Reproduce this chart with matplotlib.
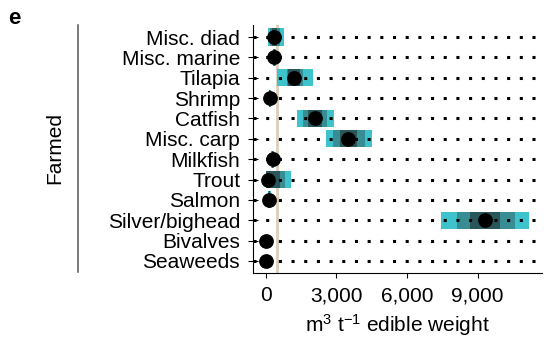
import numpy as np
import matplotlib.pyplot as plt
from matplotlib.lines import Line2D

plt.rcParams['font.family'] = ['Liberation Sans', 'DejaVu Sans']
plt.rcParams['mathtext.fontset'] = 'custom'
plt.rcParams['mathtext.rm'] = 'Liberation Sans'
plt.rcParams['mathtext.it'] = 'Liberation Sans'

# === Données ===
categories = ["Misc. diad", "Misc. marine", "Tilapia", "Shrimp", "Catfish", "Misc. carp",
              "Milkfish", "Trout", "Salmon", "Silver/bighead", "Bivalves", "Seaweeds"]
point    = [370, 360, 1210, 180, 2100, 3500, 300, 110, 150, 9320, 0, 0]
outer_lo = [110, 300, 470, 120, 1320, 2550, 240, 0, 90, 7440, 0, 0]
outer_hi = [790, 430, 2020, 240, 2900, 4530, 360, 1080, 210, 11200, 0, 0]
mid_lo   = [200, 320, 890, 140, 1600, 2870, 260, 0, 110, 8120, 0, 0]
mid_hi   = [600, 410, 1600, 220, 2590, 4220, 340, 800, 190, 10590, 0, 0]
in_lo    = [270, 340, 960, 160, 1810, 3160, 280, 0, 130, 8680, 0, 0]
in_hi    = [480, 390, 1460, 200, 2380, 3870, 320, 600, 170, 9960, 0, 0]
ref_value = 470
xticks = [0, 3000, 6000, 9000]
xticklabels = ["0", "3,000", "6,000", "9,000"]

c_out, c_mid, c_in = '#3ec2cb', '#378d93', '#2a5559'

fig = plt.figure(figsize=(5.58, 3.41), dpi=100)
ax = fig.add_axes([0.4534, 0.1994, 0.9713 - 0.4534, 0.9267 - 0.1994])
xlim = (-540, 11740)
y = np.arange(len(categories))

ax.axvline(ref_value, color='#dccfb9', lw=2, zorder=1)

h = 0.84
for lo, hi, c in [(outer_lo, outer_hi, c_out), (mid_lo, mid_hi, c_mid), (in_lo, in_hi, c_in)]:
    ax.barh(y, np.array(hi) - np.array(lo), left=lo, height=h, color=c, lw=0, zorder=2)

# lignes pointillées
for yi in y:
    ax.plot(xlim, [yi, yi], color='black', lw=2.2, linestyle=(0, (1, 3.15)),
            dash_capstyle='butt', zorder=3)

ax.plot(point, y, 'o', color='black', ms=9.6, zorder=4)

ax.set_xlim(xlim)
ax.set_ylim(len(categories) - 0.41, -0.59)
ax.set_yticks(y)
ax.set_yticklabels(categories, fontsize=15)
ax.set_xticks(xticks)
ax.set_xticklabels(xticklabels, fontsize=15)
ax.tick_params(axis='y', direction='inout', length=6.5, width=0.8, pad=6)
ax.tick_params(axis='x', direction='out', length=3.6, width=0.8, pad=6)
ax.set_xlabel(r"m$^3$ t$^{-1}$ edible weight", fontsize=15, labelpad=5)
for s in ['top', 'right']:
    ax.spines[s].set_visible(False)
for s in ['left', 'bottom']:
    ax.spines[s].set_linewidth(0.8)

fig.add_artist(Line2D([77.5 / 558, 77.5 / 558], [1 - 25 / 341, 1 - 272 / 341],
                      transform=fig.transFigure, color='#555555', lw=1.1))
fig.text(55 / 558, 1 - 148 / 341, "Farmed", rotation=90, fontsize=15,
         ha='center', va='center')
fig.text(8 / 558, 1 - 23.5 / 341, "e", fontsize=16, fontweight='bold', va='baseline')

plt.savefig("out.png", dpi=100)
